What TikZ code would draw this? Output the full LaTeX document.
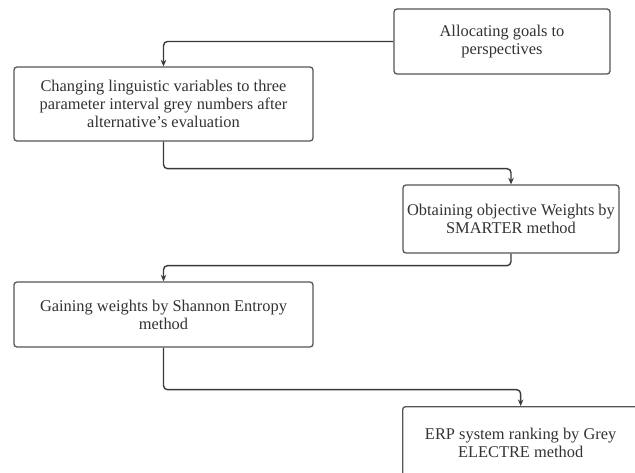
\documentclass[tikz,border=0pt]{standalone}
\usepackage{fontspec}
\setmainfont{Liberation Serif}
\usetikzlibrary{arrows.meta}
\definecolor{boxgray}{HTML}{555555}
\definecolor{linegray}{HTML}{3A3A3A}
\definecolor{textgray}{HTML}{333333}
\begin{document}
\begin{tikzpicture}[x=1pt,y=-1pt,
  box/.style={draw=boxgray, line width=1.3pt, rounded corners=3pt, fill=white,
    inner sep=0pt, text=textgray, font=\fontsize{16.4}{17.8}\selectfont, align=center},
  conn/.style={draw=linegray, line width=1.4pt, rounded corners=4pt,
    -{Stealth[length=6.5pt,width=5.5pt]}}]
\useasboundingbox (0,0) rectangle (635,473);
\begin{scope}
\clip (0,0) rectangle (635,473);
\node[box, minimum width=216pt, minimum height=65pt] (A) at (502,41.5)
  {Allocating goals to\\perspectives};
\node[box, minimum width=299pt, minimum height=74pt] (B) at (163.5,104)
  {Changing linguistic variables to three\\parameter interval grey numbers after\\alternative's evaluation};
\node[box, minimum width=216pt, minimum height=68pt] (C) at (511,219)
  {Obtaining objective Weights by\\SMARTER method};
\node[box, minimum width=299pt, minimum height=65pt] (D) at (163.5,314.5)
  {Gaining weights by Shannon Entropy\\method};
\node[box, minimum width=236pt, minimum height=72pt, anchor=north west] (E) at (402,406)
  {ERP system ranking by Grey\\ELECTRE method};
\draw[conn] (A.west) -| (B.north);
\draw[conn] (B.south) -- ++(0,27) -| (C.north);
\draw[conn] (C.south) -- ++(0,12) -| (D.north);
\draw[conn] (D.south) -- ++(0,42) -| (E.north);
\end{scope}
\end{tikzpicture}
\end{document}
